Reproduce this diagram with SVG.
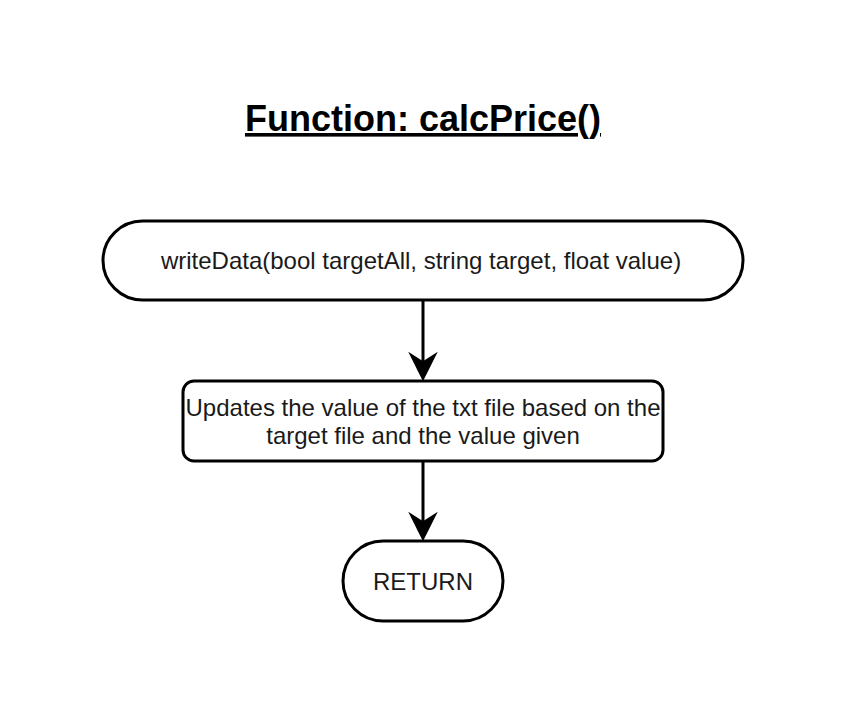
<svg xmlns="http://www.w3.org/2000/svg" width="844" height="724" viewBox="0 0 844 724">
  <style>
    .shape { fill: #ffffff; stroke: #000000; stroke-width: 3; }
    .lbl { font-family: "Liberation Sans", Arial, sans-serif; font-size: 24px; fill: #1a1a1a; text-anchor: middle; }
    .title { font-family: "Liberation Sans", Arial, sans-serif; font-size: 36px; font-weight: bold; fill: #000000; text-anchor: middle; text-decoration: underline; }
    .edge { fill: none; stroke: #000000; stroke-width: 3; }
    .head { fill: #000000; stroke: #000000; stroke-width: 3; stroke-linejoin: miter; }
  </style>
  <rect width="844" height="724" fill="#ffffff"/>
  <g id="title">
    <text class="title" x="423" y="131">Function: calcPrice()</text>
  </g>
  <g id="connectors">
    <line class="edge" x1="423" y1="301" x2="423" y2="362"/>
    <path class="head" d="M423,378 L412,356 L423,363 L434,356 Z"/>
    <line class="edge" x1="423" y1="461" x2="423" y2="522"/>
    <path class="head" d="M423,538 L412,516 L423,523 L434,516 Z"/>
  </g>
  <g id="start">
    <rect class="shape" x="103" y="221" width="640" height="79" rx="39.5" ry="39.5"/>
    <text class="lbl" x="421" y="269">writeData(bool targetAll, string target, float value)</text>
  </g>
  <g id="process">
    <rect class="shape" x="183" y="381" width="480" height="80" rx="11" ry="11"/>
    <text class="lbl" x="423" y="415.5">Updates the value of the txt file based on the</text>
    <text class="lbl" x="423" y="443.5">target file and the value given</text>
  </g>
  <g id="return">
    <rect class="shape" x="343" y="541" width="160" height="80" rx="40" ry="40"/>
    <text class="lbl" x="423" y="589.5">RETURN</text>
  </g>
</svg>
